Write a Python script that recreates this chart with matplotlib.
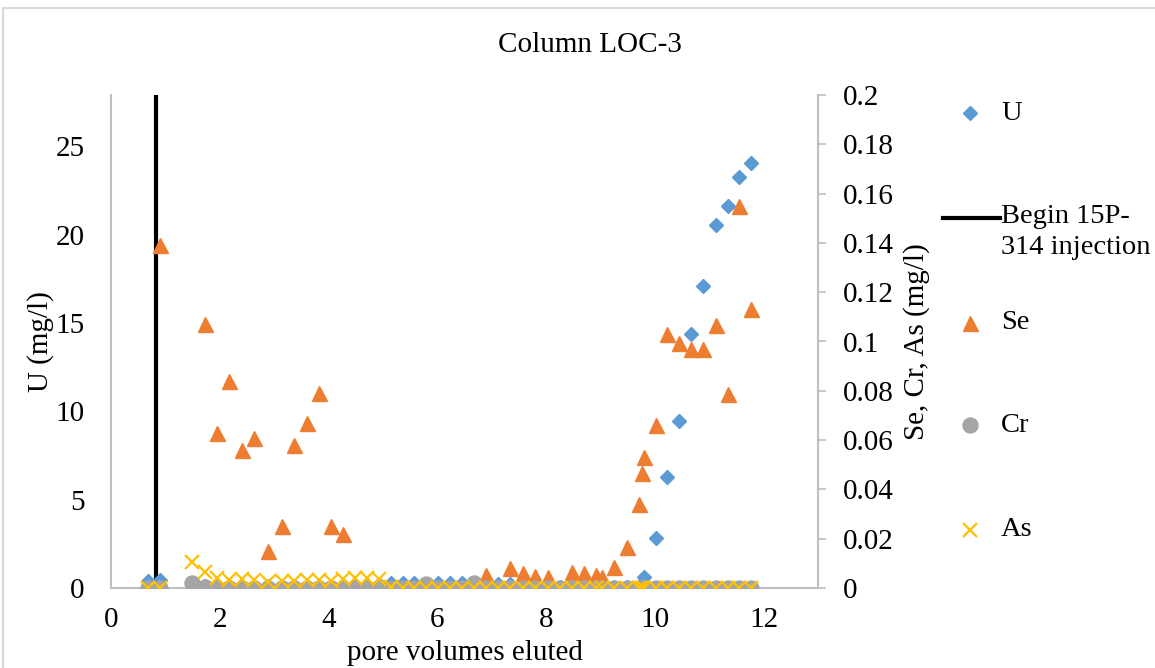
import matplotlib
matplotlib.use("Agg")
import matplotlib.pyplot as plt
from matplotlib.lines import Line2D
from matplotlib.patches import Rectangle

plt.rcParams['font.family'] = ['Liberation Serif', 'DejaVu Serif']
plt.rcParams['font.size'] = 21

# pore volumes eluted for each sample
pv = [0.68, 0.90, 1.49, 1.73, 1.95, 2.17, 2.41, 2.63, 2.89, 3.14, 3.36, 3.60,
      3.82, 4.04, 4.26, 4.48, 4.70, 4.92, 5.14, 5.36, 5.58, 5.80, 6.02, 6.24,
      6.46, 6.68, 6.89, 7.11, 7.33, 7.57, 7.79, 8.03, 8.25, 8.47, 8.70, 8.92,
      9.03, 9.25, 9.49, 9.71, 9.76, 9.80, 10.02, 10.22, 10.44, 10.66, 10.88,
      11.12, 11.34, 11.54, 11.76]

u_mgl = [0.40, 0.45, 0.10, 0.10, 0.15, 0.10, 0.10, 0.10, 0.10, 0.10, 0.10, 0.10,
         0.10, 0.10, 0.15, 0.15, 0.15, 0.20, 0.30, 0.30, 0.30, 0.25, 0.30, 0.30,
         0.30, 0.15, 0.10, 0.20, 0.20, 0.10, 0.10, 0.05, 0.05, 0.05, 0.05, 0.05,
         0.05, 0.05, 0.05, 0.05, 0.05, 0.65, 2.85, 6.30, 9.45, 14.35, 17.10,
         20.55, 21.60, 23.25, 24.05]

se_mgl = [0.0, 0.139, 0.0, 0.107, 0.063, 0.084, 0.056, 0.061, 0.015, 0.025, 0.058, 0.067,
          0.079, 0.025, 0.022, 0.0, 0.0, 0.0, 0.0, 0.0, 0.0, 0.0005, 0.0, 0.0,
          0.0, 0.001, 0.0053, 0.0, 0.008, 0.006, 0.005, 0.0045, 0.0, 0.0065, 0.006, 0.0053,
          0.0045, 0.0085, 0.0166, 0.034, 0.0467, 0.053, 0.066, 0.103, 0.0994, 0.097, 0.097,
          0.1067, 0.0787, 0.155, 0.113]

cr_mgl = [0.0, 0.0, 0.002, 0.0005, 0.0, 0.0, 0.0, 0.0, 0.0, 0.0, 0.0, 0.0,
          0.0, 0.0, 0.0, 0.0, 0.0, 0.0, 0.0, 0.0, 0.0, 0.0015, 0.0, 0.0,
          0.0, 0.002, 0.0, 0.0, 0.0, 0.0, 0.0, 0.0, 0.0, 0.0, 0.0, 0.0,
          0.0, 0.0, 0.0, 0.0, 0.0, 0.0, 0.0, 0.0, 0.0, 0.0, 0.0,
          0.0, 0.0, 0.0, 0.0]

as_mgl = [0.0, 0.0, 0.0105, 0.0065, 0.0040, 0.0032, 0.0035, 0.0032, 0.0025, 0.0028, 0.0030, 0.0032,
          0.0032, 0.0030, 0.0035, 0.0040, 0.0040, 0.0035, 0.0005, 0.0, 0.0, 0.0, 0.0, 0.0,
          0.0, 0.0, 0.0, 0.0, 0.0, 0.0, 0.0, 0.0, 0.0, 0.0, 0.0, 0.0,
          0.0, 0.0, 0.0, 0.0, 0.0, 0.0, 0.0, 0.0, 0.0, 0.0, 0.0,
          0.0, 0.0, 0.0, 0.0]

injection_pv = 0.83

BLUE = '#5B9BD5'
ORANGE = '#ED7D31'
GREY = '#A5A5A5'
GOLD = '#FFC000'
AXIS = '#BFBFBF'

W, H = 1155, 668
fig = plt.figure(figsize=(W / 100, H / 100), dpi=100)
ax = fig.add_axes([111 / W, 1 - 588 / H, 707 / W, 493 / H])
ax2 = ax.twinx()

u_style = dict(ls='none', marker='D', ms=7.6, color=BLUE)
se_style = dict(ls='none', marker='^', ms=10.8, color=ORANGE)
cr_style = dict(ls='none', marker='o', ms=10.8, color=GREY)
as_style = dict(ls='none', marker='x', ms=10, mew=1.6, color=GOLD)

# primary axis: injection marker and uranium
ax.axvline(injection_pv, color='black', lw=3, zorder=1)
ax.plot(pv, u_mgl, zorder=2, **u_style)
ax.set_xlim(0, 13)
ax.set_ylim(0, 27.9)
ax.set_xticks(range(0, 13, 2))
ax.set_yticks(range(0, 26, 5))

# secondary axis: Se, Cr, As
ax2.plot(pv, se_mgl, **se_style)
ax2.plot(pv, cr_mgl, **cr_style)
ax2.plot(pv, as_mgl, **as_style)
ax2.set_ylim(0, 0.2)
ax2.set_yticks([i / 100 for i in range(0, 21, 2)])
ax2.set_yticklabels(['0'] + ['%g' % (i / 100) for i in range(2, 21, 2)])

for a in (ax, ax2):
    for side in a.spines.values():
        side.set_visible(False)
ax.spines['left'].set_visible(True)
ax.spines['bottom'].set_visible(True)
ax2.spines['right'].set_visible(True)
for s in (ax.spines['left'], ax.spines['bottom'], ax2.spines['right']):
    s.set_color(AXIS)
    s.set_linewidth(1.5)

ax.tick_params(axis='x', length=0, pad=14)
ax.tick_params(axis='y', length=0, pad=19)
ax2.tick_params(axis='y', length=6, width=1.2, color=AXIS, pad=12, direction='out')

ax.set_xlabel('pore volumes eluted')
ax.xaxis.set_label_coords(0.5, -0.105)
ax.set_ylabel('U (mg/l)')
ax.yaxis.set_label_coords(-0.08, 0.5)
ax2.set_ylabel('Se, Cr, As (mg/l)')
ax2.yaxis.set_label_coords(1.12, 0.5)

fig.text(590 / W, 1 - 45 / H, 'Column LOC-3', ha='center', va='center')

# legend column on the right
key_x, text_x = 970 / W, 1001 / W
legend_rows = [
    ('U', 113, u_style),
    ('Se', 323, se_style),
    ('Cr', 425, cr_style),
    ('As', 530, as_style),
]
for label, ypix, style in legend_rows:
    y = 1 - ypix / H
    fig.add_artist(Line2D([key_x], [y], transform=fig.transFigure, **style))
    fig.text(text_x, y, label, ha='left', va='center', fontsize=20.5)

y_line = 1 - 218 / H
fig.add_artist(Line2D([943 / W, 1000 / W], [y_line, y_line], transform=fig.transFigure,
                      color='black', lw=3))
fig.text(text_x, 1 - 204 / H, 'Begin 15P-\n314 injection', ha='left', va='top',
         linespacing=1.32, fontsize=20.5)

# chart border
fig.add_artist(Rectangle((3 / W, -0.1), 1.2, 1 - 8 / H + 0.1, transform=fig.transFigure,
                         fill=False, edgecolor='#D9D9D9', lw=1.5))

fig.savefig('out.png', dpi=100)
